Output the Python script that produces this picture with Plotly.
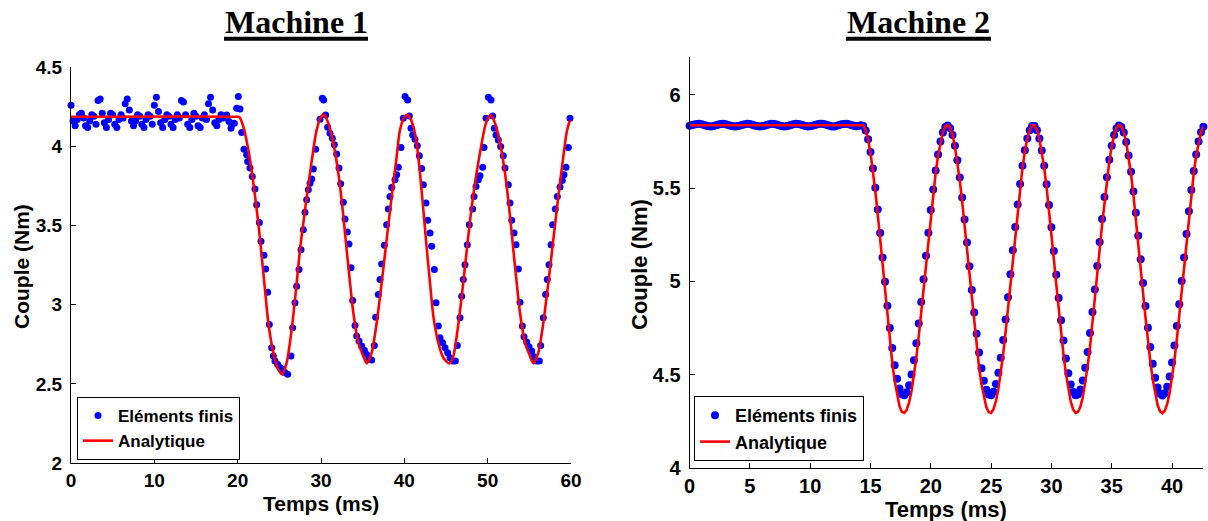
import plotly.graph_objects as go

# ---------------- Machine 1 data ----------------
# Finite-element (Eléments finis) samples, time in ms, torque in Nm
fe1_t = [
    0.00, 0.25, 0.50, 0.75, 1.00, 1.25, 1.50, 1.75, 2.00, 2.25, 2.50, 2.75, 3.00, 3.25, 3.50, 3.75,
    4.00, 4.25, 4.50, 4.75, 5.00, 5.25, 5.50, 5.75, 6.00, 6.25, 6.50, 6.75, 7.00, 7.25, 7.50, 7.75,
    8.00, 8.25, 8.50, 8.75, 9.00, 9.25, 9.50, 9.75, 10.00, 10.25, 10.50, 10.75, 11.00, 11.25, 11.50,
    11.75, 12.00, 12.25, 12.50, 12.75, 13.00, 13.25, 13.50, 13.75, 14.00, 14.25, 14.50, 14.75, 15.00,
    15.25, 15.50, 15.75, 16.00, 16.25, 16.50, 16.75, 17.00, 17.25, 17.50, 17.75, 18.00, 18.25,
    18.68, 18.96, 19.20, 19.28, 19.60, 19.88, 20.08, 20.28, 20.48, 20.76, 21.08, 21.20, 21.48, 21.76,
    22.08, 22.28, 22.60, 22.80, 23.16, 23.36, 23.60, 23.80, 24.08, 24.28, 24.48, 24.80, 25.08, 25.36,
    25.68, 26.00, 26.40, 26.60, 26.88, 27.08, 27.36, 27.60, 27.88, 28.08, 28.28, 28.48, 28.68, 28.88,
    29.08, 29.36, 29.88, 30.16, 30.32, 30.56, 30.80, 31.08, 31.36, 31.60, 31.88, 32.16, 32.36, 32.68,
    32.88, 33.16, 33.36, 33.60, 33.80, 34.08, 34.28, 34.56, 34.88, 35.20, 35.48, 35.76, 36.08, 36.40,
    36.56, 36.88, 37.08, 37.28, 37.60, 37.88, 38.08, 38.28, 38.48, 38.88, 39.08, 39.28,
    39.60, 39.88, 40.08, 40.40, 40.60, 40.80, 41.00, 41.28, 41.56, 41.80, 42.08, 42.28, 42.60, 42.80,
    43.08, 43.28, 43.60, 43.80, 44.08, 44.28, 44.60, 44.88, 45.20, 45.48, 45.80, 46.12, 46.36, 46.68,
    46.88, 47.08, 47.28, 47.56, 47.80, 48.20, 48.36, 48.60, 48.88, 49.08, 49.40, 49.56, 49.80, 50.08,
    50.40, 50.60, 50.80, 51.00, 51.28, 51.56, 51.88, 52.08, 52.48, 52.68, 52.88, 53.16, 53.40, 53.68,
    53.88, 54.16, 54.36, 54.68, 54.96, 55.28, 55.56, 55.88, 56.20, 56.36, 56.68, 56.96, 57.16, 57.36,
    57.60, 57.80, 58.12, 58.36, 58.68, 58.96, 59.16, 59.40, 59.68, 59.88,
]
fe1_v = [
    4.26, 4.16, 4.13, 4.17, 4.20, 4.21, 4.18, 4.13, 4.12, 4.16, 4.20, 4.19, 4.14, 4.29, 4.30, 4.21,
    4.15, 4.12, 4.17, 4.21, 4.20, 4.14, 4.12, 4.17, 4.20, 4.18, 4.27, 4.30, 4.23, 4.16, 4.13, 4.16,
    4.20, 4.19, 4.14, 4.12, 4.17, 4.20, 4.19, 4.14, 4.26, 4.31, 4.22, 4.15, 4.12, 4.17, 4.20,
    4.19, 4.14, 4.12, 4.17, 4.20, 4.18, 4.29, 4.28, 4.20, 4.14, 4.12, 4.17, 4.21, 4.19,
    4.13, 4.12, 4.18, 4.20, 4.17, 4.27, 4.31, 4.23, 4.15, 4.13, 4.17, 4.20, 4.18,
    4.199, 4.157, 4.115, 4.136, 4.147, 4.241, 4.315, 4.237, 4.088, 3.983, 3.947, 3.905, 3.863, 3.810,
    3.731, 3.632, 3.520, 3.401, 3.312, 3.226, 3.079, 2.875, 2.728, 2.676, 2.644, 2.623, 2.602, 2.592,
    2.571, 2.560, 2.676, 2.854, 3.012, 3.117, 3.222, 3.348, 3.474, 3.584, 3.663, 3.726, 3.768, 3.794,
    3.857, 3.983, 4.172, 4.304, 4.294, 4.199, 4.122, 4.084, 4.052, 4.010, 3.953, 3.863, 3.764, 3.647,
    3.542, 3.460, 3.384, 3.233, 3.027, 2.869, 2.802, 2.770, 2.739, 2.713, 2.686, 2.659, 2.650, 2.743,
    2.921, 3.064, 3.159, 3.258, 3.376, 3.506, 3.605, 3.684, 3.741, 3.790, 3.821, 3.869,
    3.993, 4.178, 4.315, 4.294, 4.193, 4.115, 4.073, 4.046, 4.004, 3.941, 3.861, 3.758, 3.642, 3.533,
    3.453, 3.369, 3.222, 3.012, 2.865, 2.791, 2.759, 2.728, 2.696, 2.665, 2.644, 2.644, 2.743, 2.917,
    3.054, 3.159, 3.253, 3.379, 3.506, 3.604, 3.684, 3.747, 3.789, 3.815, 3.869, 3.993, 4.178, 4.311,
    4.294, 4.193, 4.115, 4.073, 4.041, 4.000, 3.941, 3.863, 3.758, 3.642, 3.533, 3.453, 3.379, 3.226,
    3.016, 2.865, 2.797, 2.764, 2.734, 2.707, 2.671, 2.644, 2.644, 2.743, 2.917, 3.064, 3.159, 3.253,
    3.379, 3.506, 3.604, 3.684, 3.743, 3.785, 3.821, 3.869, 3.993, 4.178,
]

# Analytical model (Analytique), Machine 1
an1_t = [
    0.00, 19.80, 20.20, 20.68, 21.28, 21.88, 22.48, 22.88, 23.28, 23.68, 24.28, 24.88, 25.36, 25.88,
    26.48, 27.00, 27.48, 27.88, 28.40, 28.96, 29.48, 30.08, 30.40, 30.88, 31.48, 32.08, 32.56, 32.96,
    33.36, 33.88, 34.48, 35.08, 35.48, 36.08, 36.68, 37.28, 37.88, 38.48, 39.08, 39.48, 40.08, 40.45,
    41.00, 41.48, 41.88, 42.28, 42.68, 43.08, 43.48, 44.08, 44.68, 45.40, 45.88, 46.36, 46.88, 47.40,
    47.88, 48.48, 49.08, 49.68, 50.08, 50.40, 50.88, 51.48, 52.08, 52.56, 52.96, 53.36, 53.88, 54.48,
    55.08, 55.48, 56.08, 56.68, 57.28, 57.88, 58.48, 59.08, 59.48, 59.85,
]
an1_v = [
    4.188, 4.188, 4.186, 4.125, 3.979, 3.769, 3.516, 3.306, 3.096, 2.886, 2.697, 2.591, 2.560, 2.634,
    2.844, 3.096, 3.348, 3.516, 3.726, 3.936, 4.105, 4.193, 4.199, 4.147, 4.021, 3.832, 3.621, 3.411,
    3.201, 2.949, 2.760, 2.675, 2.629, 2.697, 2.886, 3.138, 3.411, 3.684, 3.936, 4.105, 4.192, 4.199,
    4.140, 4.020, 3.830, 3.600, 3.360, 3.138, 2.928, 2.759, 2.665, 2.629, 2.675, 2.830, 3.050, 3.300,
    3.530, 3.768, 3.960, 4.126, 4.185, 4.199, 4.147, 4.021, 3.832, 3.621, 3.411, 3.201, 2.949, 2.760,
    2.675, 2.629, 2.697, 2.886, 3.138, 3.411, 3.684, 3.936, 4.090, 4.165,
]

# ---------------- Machine 2 data ----------------
# Finite-element samples every 0.2 ms from 0 to 42.6 ms
fe2_t0 = 0.0
fe2_dt = 0.2
fe2_v = [
    # flat part (0 .. 14.2 ms)
    5.834, 5.837, 5.840, 5.843, 5.844, 5.842, 5.838, 5.834, 5.831, 5.830, 5.832,
    5.836, 5.840, 5.843, 5.844, 5.842, 5.838, 5.834, 5.831, 5.830, 5.832, 5.835,
    5.839, 5.842, 5.844, 5.843, 5.839, 5.835, 5.832, 5.830, 5.831, 5.834, 5.838,
    5.842, 5.844, 5.843, 5.840, 5.836, 5.832, 5.830, 5.831, 5.833, 5.837, 5.841,
    5.844, 5.843, 5.840, 5.836, 5.832, 5.830, 5.831, 5.833, 5.837, 5.841, 5.844,
    5.844, 5.841, 5.837, 5.833, 5.830, 5.830, 5.833, 5.837, 5.841, 5.843, 5.844,
    5.841, 5.837, 5.833, 5.831, 5.832, 5.836,
    # 14.4 .. 17.6
    5.832, 5.808, 5.761, 5.693, 5.605, 5.502, 5.385, 5.259, 5.129, 4.998, 4.870, 4.751, 4.644,
    4.552, 4.479, 4.427, 4.397,
    # 17.8 .. 21.2
    4.391, 4.407, 4.445, 4.502, 4.578, 4.670, 4.775, 4.890, 5.012, 5.138, 5.261, 5.382, 5.493,
    5.594, 5.680, 5.749, 5.798, 5.827,
    # 21.4 .. 24.8
    5.835, 5.820, 5.784, 5.726, 5.649, 5.556, 5.449, 5.332, 5.208, 5.081, 4.955, 4.834, 4.720,
    4.620, 4.535, 4.468, 4.420, 4.395,
    # 25.0 .. 28.4
    4.391, 4.410, 4.451, 4.512, 4.592, 4.687, 4.796, 4.915, 5.039, 5.167, 5.292, 5.412, 5.522,
    5.620, 5.702, 5.766, 5.810, 5.832,
    # 28.6 .. 32.0
    5.832, 5.810, 5.766, 5.701, 5.619, 5.521, 5.410, 5.290, 5.163, 5.036, 4.911, 4.792, 4.684,
    4.588, 4.509, 4.449, 4.409, 4.391,
    # 32.2 .. 35.6
    4.395, 4.422, 4.470, 4.538, 4.623, 4.724, 4.837, 4.957, 5.083, 5.211, 5.335, 5.452, 5.558,
    5.651, 5.727, 5.784, 5.820, 5.835,
    # 35.8 .. 39.0
    5.827, 5.797, 5.746, 5.675, 5.587, 5.482, 5.368, 5.245, 5.119, 4.992, 4.869, 4.753, 4.649,
    4.559, 4.485, 4.432, 4.400,
    # 39.2 .. 42.6
    4.390, 4.402, 4.437, 4.492, 4.566, 4.657, 4.762, 4.878, 5.002, 5.129, 5.254, 5.376, 5.490,
    5.592, 5.680, 5.749, 5.799, 5.828,
]

# Analytical model, Machine 2: flat until 14.2 ms, then every 0.2 ms
an2_flat_t = [0.0, 14.2]
an2_flat_v = [5.836, 5.836]
an2_start = 14.4
an2_dt = 0.2
an2_v = [
    5.836, 5.810, 5.760, 5.688, 5.594, 5.483, 5.359, 5.224, 5.085, 4.945, 4.808, 4.681, 4.567,
    4.468, 4.390, 4.334, 4.302,
    4.296, 4.313, 4.353, 4.414, 4.496, 4.594, 4.707, 4.830, 4.960, 5.094, 5.226, 5.355, 5.474,
    5.582, 5.673, 5.747, 5.800, 5.830,
    5.839, 5.823, 5.784, 5.722, 5.641, 5.541, 5.427, 5.302, 5.169, 5.033, 4.899, 4.769, 4.648,
    4.540, 4.450, 4.378, 4.328, 4.300,
    4.296, 4.317, 4.360, 4.425, 4.511, 4.612, 4.729, 4.855, 4.989, 5.125, 5.259, 5.387, 5.504,
    5.609, 5.697, 5.766, 5.812, 5.836,
    5.836, 5.812, 5.765, 5.696, 5.608, 5.503, 5.385, 5.256, 5.121, 4.985, 4.852, 4.725, 4.609,
    4.507, 4.423, 4.358, 4.315, 4.296,
    4.301, 4.329, 4.380, 4.453, 4.544, 4.652, 4.773, 4.901, 5.036, 5.172, 5.304, 5.429, 5.543,
    5.643, 5.723, 5.784, 5.823, 5.839,
    5.830, 5.798, 5.744, 5.668, 5.574, 5.462, 5.340, 5.209, 5.074, 4.938, 4.807, 4.683, 4.572,
    4.476, 4.397, 4.340, 4.306,
    4.295, 4.308, 4.345, 4.404, 4.483, 4.580, 4.693, 4.817, 4.949, 5.085, 5.218, 5.349, 5.470,
    5.580, 5.673, 5.747, 5.800, 5.831,
]

# axes / ticks
x1_ticks = [0, 10, 20, 30, 40, 50, 60]
y1_ticks = [2, 2.5, 3, 3.5, 4, 4.5]
y1_labels = ["2", "2.5", "3", "3.5", "4", "4.5"]
x2_ticks = [0, 5, 10, 15, 20, 25, 30, 35, 40]
y2_ticks = [4, 4.5, 5, 5.5, 6]
y2_labels = ["4", "4.5", "5", "5.5", "6"]
titles = ["Machine 1", "Machine 2"]
x_title = "Temps (ms)"
y_title = "Couple (Nm)"
legend_names = ["Eléments finis", "Analytique"]

# ---------------- figure ----------------
W, H = 1208, 521
BLUE = "#0000ff"
RED = "#ff0000"
SANS = "Liberation Sans"
SERIF = "Liberation Serif"

fe2_t = [round(fe2_t0 + fe2_dt * i, 3) for i in range(len(fe2_v))]
an2_t = an2_flat_t + [round(an2_start + an2_dt * i, 3) for i in range(len(an2_v))]
an2_all_v = an2_flat_v + an2_v

fig = go.Figure()
fig.add_trace(go.Scatter(x=fe1_t, y=fe1_v, mode="markers", name=legend_names[0],
                         marker=dict(color=BLUE, size=7, line=dict(width=0)),
                         xaxis="x", yaxis="y", legend="legend", cliponaxis=False))
fig.add_trace(go.Scatter(x=an1_t, y=an1_v, mode="lines", name=legend_names[1],
                         line=dict(color=RED, width=2.6, shape="spline", smoothing=0.7),
                         xaxis="x", yaxis="y", legend="legend"))
fig.add_trace(go.Scatter(x=fe2_t, y=fe2_v, mode="markers", name=legend_names[0],
                         marker=dict(color=BLUE, size=8, line=dict(width=0)),
                         xaxis="x2", yaxis="y2", legend="legend2", cliponaxis=False))
fig.add_trace(go.Scatter(x=an2_t, y=an2_all_v, mode="lines", name=legend_names[1],
                         line=dict(color=RED, width=2.6),
                         xaxis="x2", yaxis="y2", legend="legend2"))


def px_x(p):
    return p / W


def px_y(p):
    return (H - p) / H


def axis_style(size):
    return dict(showgrid=False, zeroline=False, showline=True, linecolor="black",
                linewidth=1, ticks="inside", ticklen=5, tickcolor="black",
                tickfont=dict(family=SANS, size=size, color="black", weight="bold"),
                mirror=False, fixedrange=True, automargin=False)


fig.update_layout(
    template="none",
    width=W, height=H,
    margin=dict(l=0, r=0, t=0, b=0, pad=0, autoexpand=False),
    paper_bgcolor="white", plot_bgcolor="white",
    showlegend=True,
    xaxis=dict(axis_style(19), domain=[px_x(71), px_x(571)], range=[0, 60],
               tickvals=x1_ticks, anchor="y", ticklabelstandoff=0),
    yaxis=dict(axis_style(19), domain=[px_y(463), px_y(67.3)], range=[2, 4.5],
               tickvals=y1_ticks, ticktext=y1_labels, anchor="x", ticklabelstandoff=4),
    xaxis2=dict(axis_style(20), domain=[px_x(689.6), px_x(1203.4)], range=[0, 42.6],
                tickvals=x2_ticks, anchor="y2", ticklabelstandoff=0),
    yaxis2=dict(axis_style(20), domain=[px_y(468.3), px_y(57.3)], range=[4, 6.2],
                tickvals=y2_ticks, ticktext=y2_labels, anchor="x2", ticklabelstandoff=4),
    legend=dict(x=px_x(77), y=px_y(460), xanchor="left", yanchor="bottom",
                bgcolor="white", bordercolor="black", borderwidth=1,
                font=dict(family=SANS, size=17, color="black", weight="bold"),
                itemwidth=30, tracegroupgap=0),
    legend2=dict(x=px_x(694), y=px_y(461), xanchor="left", yanchor="bottom",
                 bgcolor="white", bordercolor="black", borderwidth=1,
                 font=dict(family=SANS, size=18, color="black", weight="bold"),
                 itemwidth=30, tracegroupgap=0),
)

title_font = dict(family=SERIF, size=32, color="black", weight="bold")
lab1 = dict(family=SANS, size=21, color="black", weight="bold")
lab2 = dict(family=SANS, size=22, color="black", weight="bold")
annotations = [
    dict(text=titles[0], x=px_x(296), y=px_y(22), xref="paper", yref="paper",
         xanchor="center", yanchor="middle", showarrow=False, font=title_font),
    dict(text=titles[1], x=px_x(918), y=px_y(22), xref="paper", yref="paper",
         xanchor="center", yanchor="middle", showarrow=False, font=title_font),
    dict(text=x_title, x=px_x(321), y=px_y(503), xref="paper", yref="paper",
         xanchor="center", yanchor="middle", showarrow=False, font=lab1),
    dict(text=x_title, x=px_x(946), y=px_y(509), xref="paper", yref="paper",
         xanchor="center", yanchor="middle", showarrow=False, font=lab2),
    dict(text=y_title, x=px_x(21), y=px_y(267), xref="paper", yref="paper",
         xanchor="center", yanchor="middle", textangle=-90, showarrow=False, font=lab1),
    dict(text=y_title, x=px_x(639), y=px_y(265), xref="paper", yref="paper",
         xanchor="center", yanchor="middle", textangle=-90, showarrow=False, font=lab2),
]
fig.update_layout(annotations=annotations)

# thick underlines beneath the titles
fig.add_shape(type="line", xref="paper", yref="paper", x0=px_x(224), x1=px_x(368),
              y0=px_y(38.7), y1=px_y(38.7), line=dict(color="black", width=4))
fig.add_shape(type="line", xref="paper", yref="paper", x0=px_x(846), x1=px_x(991),
              y0=px_y(38.7), y1=px_y(38.7), line=dict(color="black", width=4))

# the default page body has an 8px margin; remove it so the figure fills the window
fig.write_html("out.html",
               config={"displayModeBar": False},
               post_script="document.body.style.margin='0px';document.body.style.overflow='hidden';")
